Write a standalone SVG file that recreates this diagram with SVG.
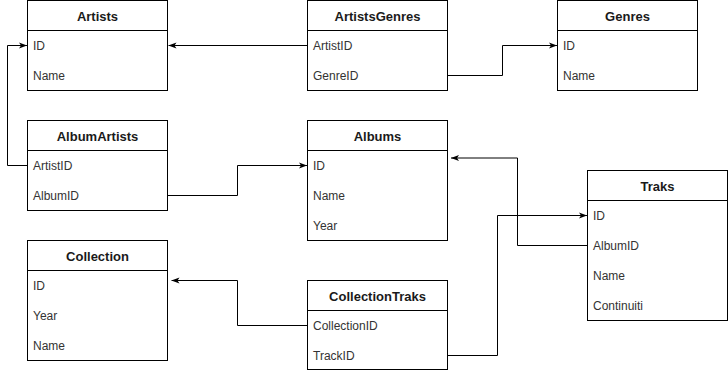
<svg xmlns="http://www.w3.org/2000/svg" width="728" height="371" viewBox="0 0 728 371">
  <style>
    .box { fill: #ffffff; stroke: #000000; stroke-width: 1; }
    .sep { stroke: #000000; stroke-width: 1; }
    .title { font-family: "Liberation Sans", Arial, sans-serif; font-size: 13px; font-weight: bold; fill: #1a1a1a; text-anchor: middle; dominant-baseline: central; }
    .field { font-family: "Liberation Sans", Arial, sans-serif; font-size: 12px; fill: #333333; dominant-baseline: central; }
    .link { fill: none; stroke: #000000; stroke-width: 1; marker-end: url(#arrow); }
    .plain { fill: none; stroke: #000000; stroke-width: 1; }
  </style>
  <defs>
    <marker id="arrow" viewBox="0 0 8 7" refX="8" refY="3.5" markerWidth="8" markerHeight="7" markerUnits="userSpaceOnUse" orient="auto">
      <path d="M0,0.5 L8,3.5 L0,6.5 L2,3.5 Z" fill="#000000"/>
    </marker>
  </defs>
  <rect width="728" height="371" fill="#ffffff"/>

  <!-- connectors -->
  <g id="connectors">
    <path class="link" d="M307,45.5 H168.5"/>
    <path class="link" d="M447,75.5 H502.5 V45.5 H557"/>
    <path class="link" d="M27,165.5 H7.5 V45.5 H27"/>
    <path class="link" d="M167,195.5 H237.5 V165.5 H307"/>
    <path class="link" d="M587,245.5 H517.5 V158 H451"/>
    <path class="link" d="M307,325.5 H237.5 V280.5 H171.5"/>
    <path class="link" d="M447,355.5 H497.5 V215.5 H587"/>
  </g>

  <!-- tables -->
  <g id="artists">
    <rect class="box" x="27.5" y="0.5" width="140" height="90"/>
    <line class="sep" x1="27.5" y1="30.5" x2="167.5" y2="30.5"/>
    <text class="title" x="97.5" y="16">Artists</text>
    <text class="field" x="33" y="46">ID</text>
    <text class="field" x="33" y="76">Name</text>
  </g>

  <g id="artists-genres">
    <rect class="box" x="307.5" y="0.5" width="140" height="90"/>
    <line class="sep" x1="307.5" y1="30.5" x2="447.5" y2="30.5"/>
    <text class="title" x="377.5" y="16">ArtistsGenres</text>
    <text class="field" x="313" y="46">ArtistID</text>
    <text class="field" x="313" y="76">GenreID</text>
  </g>

  <g id="genres">
    <rect class="box" x="557.5" y="0.5" width="140" height="90"/>
    <line class="sep" x1="557.5" y1="30.5" x2="697.5" y2="30.5"/>
    <text class="title" x="627.5" y="16">Genres</text>
    <text class="field" x="563" y="46">ID</text>
    <text class="field" x="563" y="76">Name</text>
  </g>

  <g id="album-artists">
    <rect class="box" x="27.5" y="120.5" width="140" height="90"/>
    <line class="sep" x1="27.5" y1="150.5" x2="167.5" y2="150.5"/>
    <text class="title" x="97.5" y="136">AlbumArtists</text>
    <text class="field" x="33" y="166">ArtistID</text>
    <text class="field" x="33" y="196">AlbumID</text>
  </g>

  <g id="albums">
    <rect class="box" x="307.5" y="120.5" width="140" height="120"/>
    <line class="sep" x1="307.5" y1="150.5" x2="447.5" y2="150.5"/>
    <text class="title" x="377.5" y="136">Albums</text>
    <text class="field" x="313" y="166">ID</text>
    <text class="field" x="313" y="196">Name</text>
    <text class="field" x="313" y="226">Year</text>
  </g>

  <g id="traks">
    <rect class="box" x="587.5" y="170.5" width="140" height="150"/>
    <line class="sep" x1="587.5" y1="200.5" x2="727.5" y2="200.5"/>
    <text class="title" x="657.5" y="186">Traks</text>
    <text class="field" x="593" y="216">ID</text>
    <text class="field" x="593" y="246">AlbumID</text>
    <text class="field" x="593" y="276">Name</text>
    <text class="field" x="593" y="306">Continuiti</text>
  </g>

  <g id="collection">
    <rect class="box" x="27.5" y="240.5" width="140" height="120"/>
    <line class="sep" x1="27.5" y1="270.5" x2="167.5" y2="270.5"/>
    <text class="title" x="97.5" y="256">Collection</text>
    <text class="field" x="33" y="286">ID</text>
    <text class="field" x="33" y="316">Year</text>
    <text class="field" x="33" y="346">Name</text>
  </g>

  <g id="collection-traks">
    <rect class="box" x="307.5" y="280.5" width="140" height="89"/>
    <line class="sep" x1="307.5" y1="310.5" x2="447.5" y2="310.5"/>
    <text class="title" x="377.5" y="296">CollectionTraks</text>
    <text class="field" x="313" y="326">CollectionID</text>
    <text class="field" x="313" y="356">TrackID</text>
  </g>
</svg>
